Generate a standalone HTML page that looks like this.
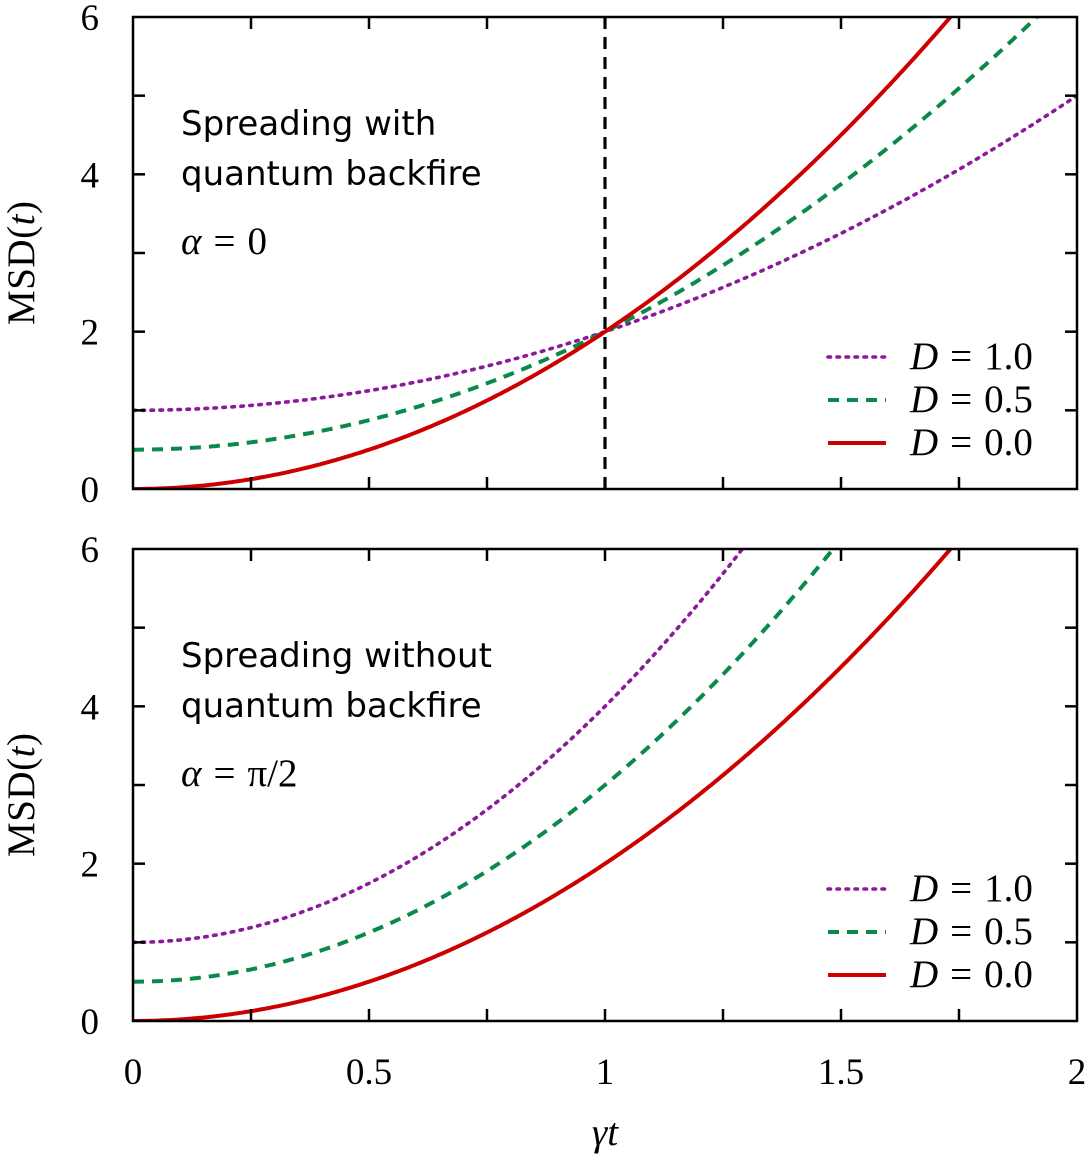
<!DOCTYPE html>
<html><head><meta charset="utf-8"><style>
html,body{margin:0;padding:0;background:#fff}
svg{display:block}
.t{font-family:"Liberation Serif",serif;font-size:37px;fill:#000}
.m{font-family:"Liberation Serif",serif;font-size:39px;fill:#000}
.s{font-family:"DejaVu Sans","Liberation Sans",sans-serif;font-size:34px;fill:#000}
.i{font-style:italic}
</style></head><body>
<svg id="g" width="1087" height="1154" xmlns="http://www.w3.org/2000/svg"></svg>
<script>
const svg=document.getElementById('g');
const X0=133,X1=1077;const sx=t=>X0+(X1-X0)*t/2;
let h='';
const panels=[{y0:489,y1:17,f:(D,t)=>D+(2-D)*t*t,title:['Spreading with','quantum backfire'],al:'0'},
{y0:1021,y1:549,f:(D,t)=>D+(2+D)*t*t,title:['Spreading without','quantum backfire'],al:'π/2'}];
const cols={1:'#8b1a9b',0.5:'#0a8a4a',0:'#cc0000'};
const dash={1:'2.5 6.5',0.5:'11 8',0:''};
const eq=s=>`<tspan dx="12">=</tspan><tspan dx="12">${s}</tspan>`;
panels.forEach((p,k)=>{
 const sy=v=>p.y0+(p.y1-p.y0)*v/6;
 h+=`<defs><clipPath id="c${k}"><rect x="${X0}" y="${p.y1}" width="${X1-X0}" height="${p.y0-p.y1}"/></clipPath></defs>`;
 if(k==0)h+=`<line x1="${sx(1)}" y1="${p.y0}" x2="${sx(1)}" y2="${p.y1}" stroke="#000" stroke-width="3.2" stroke-dasharray="12 8"/>`;
 [1,0.5,0].forEach(D=>{let pts=[];for(let i=0;i<=400;i++){const t=2*i/400;pts.push(sx(t).toFixed(1)+','+sy(p.f(D,t)).toFixed(1));}
  h+=`<polyline clip-path="url(#c${k})" points="${pts.join(' ')}" fill="none" stroke="${cols[D]}" stroke-width="${D==1?3.6:4}" ${dash[D]?`stroke-dasharray="${dash[D]}"`:''} ${D==1?'stroke-linecap="round"':''}/>`;});
 h+=`<rect x="${X0}" y="${p.y1}" width="${X1-X0}" height="${p.y0-p.y1}" fill="none" stroke="#000" stroke-width="2.5"/>`;
 for(let v=1;v<6;v++){const y=sy(v);h+=`<line x1="${X0}" y1="${y}" x2="${X0+12}" y2="${y}" stroke="#000" stroke-width="2.5"/><line x1="${X1}" y1="${y}" x2="${X1-12}" y2="${y}" stroke="#000" stroke-width="2.5"/>`;}
 for(let i=1;i<8;i++){const x=sx(i*0.25);h+=`<line x1="${x}" y1="${p.y0}" x2="${x}" y2="${p.y0-12}" stroke="#000" stroke-width="2.5"/><line x1="${x}" y1="${p.y1}" x2="${x}" y2="${p.y1+12}" stroke="#000" stroke-width="2.5"/>`;}
 [0,2,4,6].forEach(v=>h+=`<text class="t" x="99" y="${sy(v)+13}" text-anchor="end">${v}</text>`);
 h+=`<text class="m" textLength="124" transform="translate(34,${(p.y0+p.y1)/2+10}) rotate(-90)" text-anchor="middle">MSD(<tspan class="i">t</tspan>)</text>`;
 h+=`<text class="s" x="181" y="${p.y1+118}">${p.title[0]}</text><text class="s" x="181" y="${p.y1+168}">${p.title[1]}</text>`;
 h+=`<text class="m" x="181" y="${p.y1+237}"><tspan class="i">α</tspan>${eq(p.al)}</text>`;
 [[1,'1.0',p.y1+352],[0.5,'0.5',p.y1+395],[0,'0.0',p.y1+438]].forEach(([D,s,y])=>{
  h+=`<line x1="828" y1="${y-12}" x2="886" y2="${y-12}" stroke="${cols[D]}" stroke-width="${D==1?3.6:4}" ${dash[D]?`stroke-dasharray="${D==1?'2.5 6.5':'11 8'}"`:''} ${D==1?'stroke-linecap="round"':''}/>`;
  h+=`<text class="m" x="910" y="${y}"><tspan class="i">D</tspan>${eq(s)}</text>`;});
});
[['0',0],['0.5',0.5],['1',1],['1.5',1.5],['2',2]].forEach(([s,t])=>h+=`<text class="t" x="${sx(t)}" y="1084" text-anchor="middle">${s}</text>`);
h+=`<text class="m i" x="605" y="1145" text-anchor="middle">γt</text>`;
svg.innerHTML=h;
</script>
</body></html>
